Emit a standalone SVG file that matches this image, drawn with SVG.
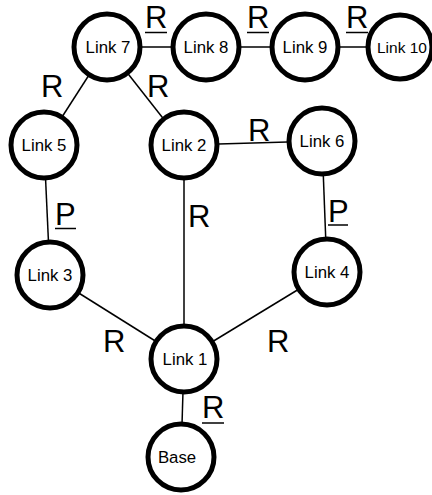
<svg xmlns="http://www.w3.org/2000/svg" width="432" height="495" viewBox="0 0 432 495">
  <style>
    .node circle { fill: #fff; stroke: #000; stroke-width: 5; }
    .node text { font-family: "Liberation Sans", Arial, sans-serif; font-size: 16.8px; text-anchor: middle; fill: #000; }
    .edge { stroke: #000; stroke-width: 1.5; fill: none; }
    .lbl { font-family: "Liberation Sans", Arial, sans-serif; font-size: 31px; fill: #000; }
    .ul { stroke: #000; stroke-width: 1.5; }
  </style>

  <!-- connectors -->
  <g id="connectors">
    <line class="edge" x1="107" y1="47" x2="206" y2="47"/>
    <line class="edge" x1="206" y1="47" x2="305" y2="47"/>
    <line class="edge" x1="305" y1="47" x2="400" y2="47"/>
    <line class="edge" x1="107" y1="47" x2="44" y2="145"/>
    <line class="edge" x1="107" y1="47" x2="184" y2="145"/>
    <line class="edge" x1="184" y1="145" x2="322" y2="141"/>
    <line class="edge" x1="44" y1="145" x2="50" y2="275"/>
    <line class="edge" x1="322" y1="141" x2="327" y2="272"/>
    <line class="edge" x1="184" y1="145" x2="184" y2="359"/>
    <line class="edge" x1="50" y1="275" x2="184" y2="359"/>
    <line class="edge" x1="327" y1="272" x2="184" y2="359"/>
    <line class="edge" x1="184" y1="359" x2="181" y2="457"/>
  </g>

  <!-- joint labels -->
  <g id="labels">
    <text class="lbl" x="145" y="28">R</text>
    <line class="ul" x1="145" y1="32.5" x2="167" y2="32.5"/>
    <text class="lbl" x="247" y="28">R</text>
    <line class="ul" x1="247" y1="32.5" x2="269" y2="32.5"/>
    <text class="lbl" x="346" y="28">R</text>
    <line class="ul" x1="346" y1="32.5" x2="368" y2="32.5"/>
    <text class="lbl" x="41" y="97">R</text>
    <text class="lbl" x="147" y="97">R</text>
    <text class="lbl" x="248" y="141">R</text>
    <text class="lbl" x="55" y="225">P</text>
    <line class="ul" x1="55" y1="228.5" x2="76" y2="228.5"/>
    <text class="lbl" x="188" y="227">R</text>
    <text class="lbl" x="328" y="222">P</text>
    <line class="ul" x1="328" y1="225" x2="348" y2="225"/>
    <text class="lbl" x="103" y="352">R</text>
    <text class="lbl" x="267" y="352">R</text>
    <text class="lbl" x="202" y="418">R</text>
    <line class="ul" x1="202" y1="423" x2="224" y2="423"/>
  </g>

  <!-- nodes -->
  <g id="link7" class="node"><circle cx="107" cy="47" r="33"/><text x="108" y="53">Link 7</text></g>
  <g id="link8" class="node"><circle cx="206" cy="47" r="33"/><text x="206" y="53">Link 8</text></g>
  <g id="link9" class="node"><circle cx="305" cy="47" r="33"/><text x="305" y="53">Link 9</text></g>
  <g id="link10" class="node"><circle cx="400" cy="47" r="32"/><text x="402" y="53" style="font-size:15.5px">Link 10</text></g>
  <g id="link5" class="node"><circle cx="44" cy="145" r="33"/><text x="44" y="151">Link 5</text></g>
  <g id="link2" class="node"><circle cx="184" cy="145" r="33"/><text x="184" y="151">Link 2</text></g>
  <g id="link6" class="node"><circle cx="322" cy="141" r="33"/><text x="322" y="147">Link 6</text></g>
  <g id="link3" class="node"><circle cx="50" cy="275" r="33"/><text x="50" y="281">Link 3</text></g>
  <g id="link4" class="node"><circle cx="327" cy="272" r="33"/><text x="327" y="278">Link 4</text></g>
  <g id="link1" class="node"><circle cx="184" cy="359" r="33"/><text x="185" y="365">Link 1</text></g>
  <g id="base" class="node"><circle cx="181" cy="457" r="33"/><text x="177" y="463">Base</text></g>
</svg>
